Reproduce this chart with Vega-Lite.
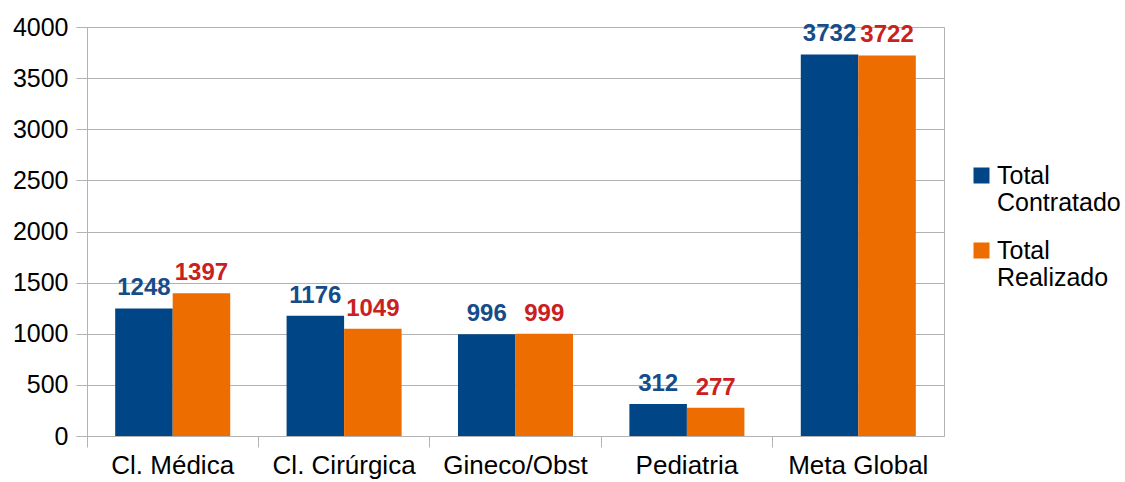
{
  "$schema": "https://vega.github.io/schema/vega-lite/v6.json",
  "width": 857,
  "height": 409,
  "autosize": {"type": "none"},
  "padding": {"left": 87, "top": 27, "right": 181, "bottom": 46},
  "background": "white",
  "config": {
    "font": "Liberation Sans",
    "view": {"stroke": "#b3b3b3", "strokeWidth": 1}
  },
  "data": {
    "values": [
      {"categoria": "Cl. Médica", "serie": "Total Contratado", "valor": 1248},
      {"categoria": "Cl. Médica", "serie": "Total Realizado", "valor": 1397},
      {"categoria": "Cl. Cirúrgica", "serie": "Total Contratado", "valor": 1176},
      {"categoria": "Cl. Cirúrgica", "serie": "Total Realizado", "valor": 1049},
      {"categoria": "Gineco/Obst", "serie": "Total Contratado", "valor": 996},
      {"categoria": "Gineco/Obst", "serie": "Total Realizado", "valor": 999},
      {"categoria": "Pediatria", "serie": "Total Contratado", "valor": 312},
      {"categoria": "Pediatria", "serie": "Total Realizado", "valor": 277},
      {"categoria": "Meta Global", "serie": "Total Contratado", "valor": 3732},
      {"categoria": "Meta Global", "serie": "Total Realizado", "valor": 3722}
    ]
  },
  "encoding": {
    "x": {
      "field": "categoria",
      "type": "nominal",
      "sort": ["Cl. Médica", "Cl. Cirúrgica", "Gineco/Obst", "Pediatria", "Meta Global"],
      "scale": {"paddingInner": 0, "paddingOuter": 0},
      "axis": {
        "title": null,
        "labelAngle": 0,
        "labelFontSize": 26,
        "labelColor": "#000000",
        "labelPadding": 5,
        "tickSize": 11,
        "tickColor": "#b3b3b3",
        "domainColor": "#b3b3b3",
        "bandPosition": 0,
        "grid": false
      }
    },
    "xOffset": {
      "field": "serie",
      "type": "nominal",
      "sort": ["Total Contratado", "Total Realizado"],
      "scale": {"paddingInner": 0, "paddingOuter": 0.49}
    },
    "y": {
      "field": "valor",
      "type": "quantitative",
      "scale": {"domain": [0, 4000], "nice": false},
      "axis": {
        "title": null,
        "values": [0, 500, 1000, 1500, 2000, 2500, 3000, 3500, 4000],
        "format": "d",
        "labelFontSize": 25,
        "labelColor": "#000000",
        "labelPadding": 8,
        "tickSize": 11,
        "tickColor": "#b3b3b3",
        "domainColor": "#b3b3b3",
        "gridColor": "#b3b3b3",
        "grid": true
      }
    }
  },
  "layer": [
    {
      "mark": {"type": "bar"},
      "encoding": {
        "color": {
          "field": "serie",
          "type": "nominal",
          "scale": {"domain": ["Total Contratado", "Total Realizado"], "range": ["#004586", "#ee6d00"]},
          "legend": {
            "title": null,
            "orient": "none",
            "legendX": 882,
            "legendY": 136,
            "symbolType": "square",
            "symbolSize": 256,
            "symbolStrokeWidth": 0,
            "labelFontSize": 25,
            "labelColor": "#000000",
            "labelExpr": "split(datum.label, ' ')",
            "labelLimit": 300,
            "rowPadding": 22,
            "labelOffset": 3
          }
        }
      }
    },
    {
      "mark": {"type": "text", "fontSize": 24, "fontWeight": "bold", "baseline": "alphabetic", "dy": -13},
      "encoding": {
        "text": {"field": "valor", "type": "quantitative"},
        "color": {
          "condition": {"test": "datum.serie === 'Total Contratado'", "value": "#164c88"},
          "value": "#c9211e"
        }
      }
    }
  ]
}
